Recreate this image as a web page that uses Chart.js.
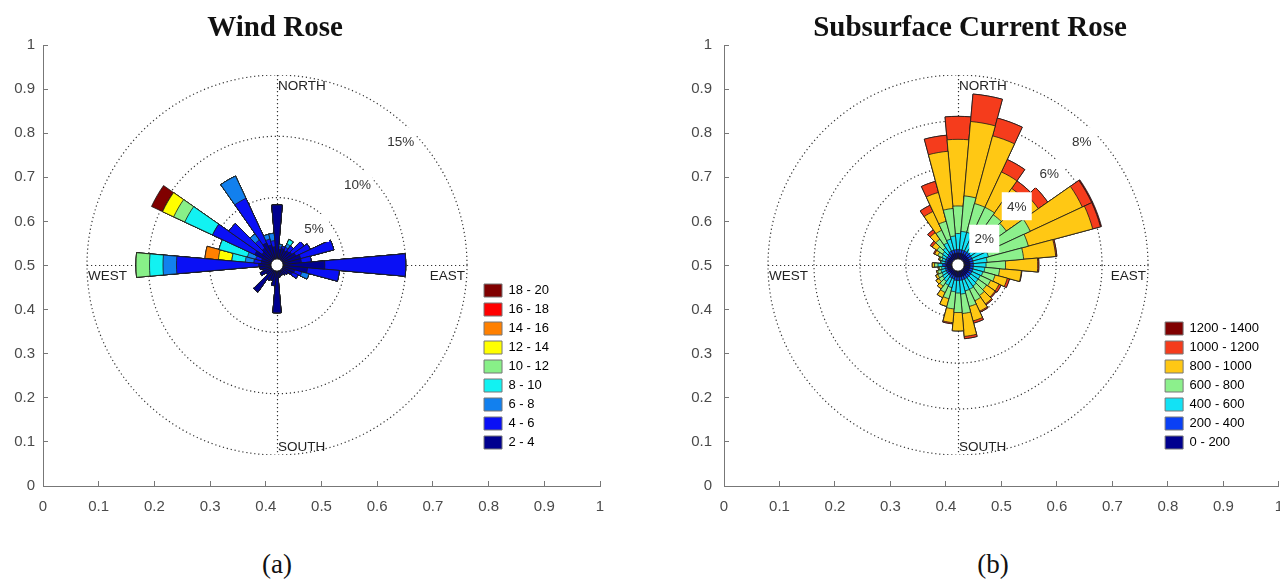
<!DOCTYPE html>
<html>
<head>
<meta charset="utf-8">
<title>Wind Rose / Subsurface Current Rose</title>
<script src="https://cdn.jsdelivr.net/npm/chart.js@4.4.1/dist/chart.umd.min.js"></script>
<style>
  html, body { margin: 0; padding: 0; background: #fff; }
  body { position: relative; width: 1280px; height: 580px; overflow: hidden; font-family: 'Liberation Sans', Arial, sans-serif; }
  .panel { position: absolute; }
  .heading { position: absolute; transform: translateX(-50%); white-space: nowrap; line-height: 1; color: #111;
             font-family: 'Liberation Serif', 'Times New Roman', serif; }
  .heading.main { font-size: 29px; font-weight: bold; top: 12px; }
  .heading.tag { font-size: 27px; top: 551px; }
</style>
</head>
<body>
  <div class="panel" style="left:0;top:0;width:640px;height:530px"><canvas id="axesWind"></canvas></div>
  <div class="panel" style="left:640px;top:0;width:660px;height:530px"><canvas id="axesCurrent"></canvas></div>
  <div class="panel" id="roseWindBox" style="left:76px;top:75px;width:480px;height:380px"><canvas id="roseWind"></canvas></div>
  <div class="panel" id="roseCurrentBox" style="left:757px;top:75px;width:520px;height:380px"><canvas id="roseCurrent"></canvas></div>
  <div class="heading main" style="left:275px">Wind Rose</div>
  <div class="heading main" style="left:970px">Subsurface Current Rose</div>
  <div class="heading tag" style="left:277px">(a)</div>
  <div class="heading tag" style="left:993px">(b)</div>

<script>
// direction sectors, degrees clockwise from north
const directions = [0, 10, 20, 30, 40, 50, 60, 70, 80, 90, 100, 110,
                    120, 130, 140, 150, 160, 170, 180, 190, 200, 210, 220, 230,
                    240, 250, 260, 270, 280, 290, 300, 310, 320, 330, 340, 350];

// wind speed classes (frequency in % per sector)
const windBins = ['2 - 4', '4 - 6', '6 - 8', '8 - 10', '10 - 12', '12 - 14', '14 - 16', '16 - 18', '18 - 20'];
const wind2to4 = [4.4, 0.8, 0.9, 0.8, 0.9, 1.0, 1.2, 1.5, 1.5, 3.4, 2.0, 1.0,
                  0.9, 0.6, 0.5, 0.4, 0.4, 0.5, 3.4, 1.2, 0.8, 0.9, 2.2, 0.6,
                  1.0, 0.7, 0.9, 1.0, 0.8, 0.8, 1.5, 1.0, 1.2, 1.5, 1.2, 1.0];
const wind4to6 = [0, 0.2, 0.2, 0.3, 0.5, 1.2, 1.3, 2.8, 0.8, 6.6, 2.6, 0.6,
                  0.5, 0, 0, 0, 0, 0, 0, 0, 0, 0, 0, 0,
                  0, 0, 0, 6.7, 0.6, 0.5, 3.8, 3.3, 0.8, 4.0, 0.5, 0.5];
const wind6to8 = [0, 0.2, 0, 0.3, 0, 0, 0, 0, 0, 0, 0, 0.6,
                  0, 0, 0, 0, 0, 0, 0, 0, 0, 0, 0, 0,
                  0, 0, 0, 1.1, 0.7, 0.7, 0, 0, 0.6, 2.0, 0.4, 0.6];
const wind8to10 = [0, 0, 0, 0.4, 0, 0, 0, 0, 0, 0, 0, 0,
                   0, 0, 0, 0, 0, 0, 0, 0, 0, 0, 0, 0,
                   0, 0, 0, 1.1, 1.1, 2.4, 2.5, 0, 0, 0, 0, 0];
const wind10to12 = [0, 0, 0, 0, 0, 0, 0, 0, 0, 0, 0, 0,
                    0, 0, 0, 0, 0, 0, 0, 0, 0, 0, 0, 0,
                    0, 0, 0, 1.1, 0, 0, 1.0, 0, 0, 0, 0, 0];
const wind12to14 = [0, 0, 0, 0, 0, 0, 0, 0, 0, 0, 0, 0,
                    0, 0, 0, 0, 0, 0, 0, 0, 0, 0, 0, 0,
                    0, 0, 0, 0, 1.1, 0, 1.0, 0, 0, 0, 0, 0];
const wind14to16 = [0, 0, 0, 0, 0, 0, 0, 0, 0, 0, 0, 0,
                    0, 0, 0, 0, 0, 0, 0, 0, 0, 0, 0, 0,
                    0, 0, 0, 0, 1.1, 0, 0, 0, 0, 0, 0, 0];
const wind16to18 = [0, 0, 0, 0, 0, 0, 0, 0, 0, 0, 0, 0,
                    0, 0, 0, 0, 0, 0, 0, 0, 0, 0, 0, 0,
                    0, 0, 0, 0, 0, 0, 0, 0, 0, 0, 0, 0];
const wind18to20 = [0, 0, 0, 0, 0, 0, 0, 0, 0, 0, 0, 0,
                    0, 0, 0, 0, 0, 0, 0, 0, 0, 0, 0, 0,
                    0, 0, 0, 0, 0, 0, 1.0, 0, 0, 0, 0, 0];
const windRings = [5, 10, 15];

// current speed classes (frequency in % per sector)
const currentBins = ['0 - 200', '200 - 400', '400 - 600', '600 - 800', '800 - 1000', '1000 - 1200', '1200 - 1400'];
const cur0to200 = [0.25, 0.25, 0.25, 0.25, 0.25, 0.25, 0.25, 0.25, 0.25, 0.25, 0.25, 0.25,
                   0.25, 0.25, 0.25, 0.25, 0.25, 0.25, 0.25, 0.25, 0.2, 0.2, 0.2, 0.2,
                   0.2, 0.2, 0.2, 0.25, 0.2, 0.2, 0.2, 0.2, 0.2, 0.25, 0.25, 0.25];
const cur200to400 = [0.15, 0.15, 0.15, 0.15, 0.15, 0.15, 0.15, 0.15, 0.15, 0.15, 0.15, 0.15,
                     0.15, 0.15, 0.15, 0.15, 0.15, 0.15, 0.15, 0.15, 0.15, 0.15, 0.1, 0.1,
                     0.1, 0.1, 0.1, 0.15, 0.1, 0.1, 0.1, 0.1, 0.15, 0.15, 0.15, 0.15];
const cur400to600 = [0.7, 0.8, 0.8, 0.8, 0.7, 0.7, 0.7, 0.7, 0.6, 0.55, 0.5, 0.45,
                     0.4, 0.4, 0.45, 0.5, 0.5, 0.6, 0.55, 0.5, 0.4, 0.35, 0.3, 0.25,
                     0.2, 0.2, 0.15, 0.2, 0.15, 0.15, 0.2, 0.25, 0.3, 0.4, 0.5, 0.6];
const cur600to800 = [1.2, 1.55, 1.3, 1.3, 1.3, 1.2, 2.1, 1.8, 1.6, 0.85, 0.65, 0.55,
                     0.5, 0.45, 0.5, 0.55, 0.7, 0.85, 0.85, 0.75, 0.5, 0.35, 0.25, 0.2,
                     0.2, 0.15, 0.1, 0.15, 0.05, 0.1, 0.2, 0.3, 0.45, 0.6, 0.8, 1.2];
const cur800to1000 = [2.9, 3.25, 3.05, 1.7, 1.4, 1.7, 2.5, 2.9, 1.4, 1.4, 0.95, 0.55,
                      0.4, 0.45, 0.45, 0.5, 0.65, 1.0, 0.8, 0.6, 0.35, 0.25, 0.15, 0.15,
                      0.1, 0.05, 0.05, 0.1, 0, 0.05, 0.15, 0.25, 0.35, 0.9, 1.3, 2.5];
const cur1000to1200 = [1.0, 1.2, 0.8, 0.6, 0.4, 0.5, 0.45, 0.35, 0.05, 0.05, 0.02, 0.1,
                       0.1, 0.05, 0.05, 0.05, 0.1, 0.1, 0, 0.05, 0, 0, 0, 0,
                       0, 0, 0, 0, 0, 0, 0.05, 0.1, 0.15, 0.3, 0.5, 0.7];
const cur1200to1400 = [0, 0, 0, 0, 0, 0, 0.05, 0.05, 0, 0, 0, 0,
                       0, 0, 0, 0, 0, 0, 0, 0, 0, 0, 0, 0,
                       0, 0, 0, 0, 0, 0, 0, 0, 0, 0, 0, 0];
const currentRings = [2, 4, 6, 8];

const windColors = ['#00008f', '#0a10f5', '#1280ee', '#12f2f2', '#88f088', '#ffff00', '#ff8000', '#ff0000', '#800000'];
const currentColors = ['#00008f', '#0a40f5', '#12e2f5', '#8cf08c', '#ffc814', '#f53c1c', '#800000'];

Chart.defaults.font.family = "'Liberation Sans', Arial, Helvetica, sans-serif";
Chart.defaults.color = '#555';

const fmtTick = v => String(Math.round(v * 10) / 10);

// the plain 0..1 axes frame behind each rose
function makeFrame(id, yAxisWidth, rightPad, yGap) {
  const axisCommon = {
    type: 'linear', min: 0, max: 1,
    grid: { drawOnChartArea: false, drawTicks: true, tickLength: -5, color: '#777' },
    border: { color: '#777', width: 1 }
  };
  return new Chart(document.getElementById(id), {
    type: 'scatter',
    data: { datasets: [] },
    options: {
      responsive: true, maintainAspectRatio: false, animation: false,
      layout: { padding: { top: 45, right: rightPad, bottom: 0, left: 0 } },
      plugins: { legend: { display: false }, tooltip: { enabled: false } },
      scales: {
        x: { ...axisCommon, afterFit: s => { s.height = 44; },
             ticks: { stepSize: 0.1, padding: 17, color: '#4a4a4a', font: { size: 15 }, callback: fmtTick } },
        y: { ...axisCommon, afterFit: s => { s.width = yAxisWidth; },
             ticks: { stepSize: 0.1, padding: yGap + 5, color: '#4a4a4a', font: { size: 15 }, callback: fmtTick } }
      }
    }
  });
}

// dotted compass cross under the bars, labels and hub on top
const roseDecor = {
  id: 'roseDecor',
  beforeDatasetsDraw(chart) {
    const r = chart.scales.r, ctx = chart.ctx;
    const R = r.drawingArea, cx = r.xCenter, cy = r.yCenter;
    ctx.save();
    ctx.strokeStyle = '#333';
    ctx.lineWidth = 1.2;
    ctx.setLineDash([1.2, 2.8]);
    ctx.beginPath();
    ctx.moveTo(cx - R, cy + 0.5); ctx.lineTo(cx + R, cy + 0.5);
    ctx.moveTo(cx + 0.5, cy - R); ctx.lineTo(cx + 0.5, cy + R);
    ctx.stroke();
    ctx.restore();
  },
  afterDatasetsDraw(chart, args, opts) {
    const r = chart.scales.r, ctx = chart.ctx;
    const R = r.drawingArea, cx = r.xCenter, cy = r.yCenter;
    ctx.save();

    // hub
    const hub = r.getDistanceFromCenterForValue(0);
    ctx.beginPath();
    ctx.arc(cx, cy, hub, 0, Math.PI * 2);
    ctx.fillStyle = '#fff';
    ctx.fill();
    ctx.strokeStyle = '#111';
    ctx.lineWidth = 1;
    ctx.stroke();

    // ring labels on the north-east diagonal
    ctx.font = "13.5px 'Liberation Sans', Arial, sans-serif";
    ctx.textAlign = 'center';
    ctx.textBaseline = 'middle';
    opts.rings.forEach(v => {
      const d = r.getDistanceFromCenterForValue(v) - 15;
      const x = cx + d * Math.SQRT1_2, y = cy - d * Math.SQRT1_2;
      ctx.fillStyle = '#fff';
      ctx.fillRect(x - 15, y - 14, 30, 28);
      ctx.fillStyle = '#333';
      ctx.fillText(v + '%', x, y + 1);
    });

    // compass words
    ctx.font = "13.5px 'Liberation Sans', Arial, sans-serif";
    ctx.fillStyle = '#222';
    ctx.textAlign = 'left';
    ctx.fillText('NORTH', cx + 1, cy - R + 11);
    ctx.fillText('SOUTH', cx + 1, cy + R - 8);
    ctx.fillText('WEST', cx - R + 1, cy + 11);
    ctx.textAlign = 'right';
    ctx.fillText('EAST', cx + R - 2, cy + 11);
    ctx.restore();
  }
};

function makeRose(id, bins, series, colors, rings, minPct, maxPct) {
  // each dataset is the running total up to a speed class; smaller totals sit on top
  const datasets = [];
  let running = directions.map(() => 0);
  series.forEach((s, k) => {
    running = running.map((v, i) => v + s[i]);
    datasets.push({
      label: bins[k],
      data: running.slice(),
      backgroundColor: colors[k],
      borderColor: '#1a1a1a',
      borderWidth: 0.8
    });
  });

  return new Chart(document.getElementById(id), {
    type: 'polarArea',
    data: { labels: directions.map(d => d + '°'), datasets },
    options: {
      responsive: true, maintainAspectRatio: false, animation: false,
      layout: { padding: 0 },
      scales: {
        r: {
          min: minPct, max: maxPct, startAngle: -5,
          afterBuildTicks: s => { s.ticks = [minPct, ...rings].map(v => ({ value: v })); },
          ticks: { display: false },
          grid: { circular: true, color: '#333', lineWidth: 1.2, borderDash: [1.2, 2.8] },
          border: { dash: [1.2, 2.8] },
          angleLines: { display: false },
          pointLabels: { display: false }
        }
      },
      plugins: {
        tooltip: { enabled: false },
        roseDecor: { rings },
        legend: {
          position: 'right', align: 'end',
          onClick: () => {},
          labels: {
            boxWidth: 18, boxHeight: 13, padding: 6, color: '#333',
            font: { size: 13 },
            generateLabels: () => bins.map((t, k) => ({
              text: t, fillStyle: colors[k], strokeStyle: '#777', lineWidth: 1,
              hidden: false, datasetIndex: k
            })).reverse()
          }
        }
      }
    },
    plugins: [roseDecor]
  });
}

// chart area 402 wide keeps the legend just right of the outer ring
function placeRose(chart, boxId, cx) {
  const box = document.getElementById(boxId);
  box.style.width = Math.round(402 + chart.legend.width) + 'px';
  chart.resize();
  box.style.left = (cx - chart.scales.r.xCenter) + 'px';
}

makeFrame('axesWind', 43, 40, 8);
makeFrame('axesCurrent', 84, 16, 12);

const windRose = makeRose('roseWind', windBins,
  [wind2to4, wind4to6, wind6to8, wind8to10, wind10to12, wind12to14, wind14to16, wind16to18, wind18to20],
  windColors, windRings, -0.5, 15);
const currentRose = makeRose('roseCurrent', currentBins,
  [cur0to200, cur200to400, cur400to600, cur600to800, cur800to1000, cur1000to1200, cur1200to1400],
  currentColors, currentRings, -0.27, 8);

placeRose(windRose, 'roseWindBox', 277);
placeRose(currentRose, 'roseCurrentBox', 958);
</script>
</body>
</html>
